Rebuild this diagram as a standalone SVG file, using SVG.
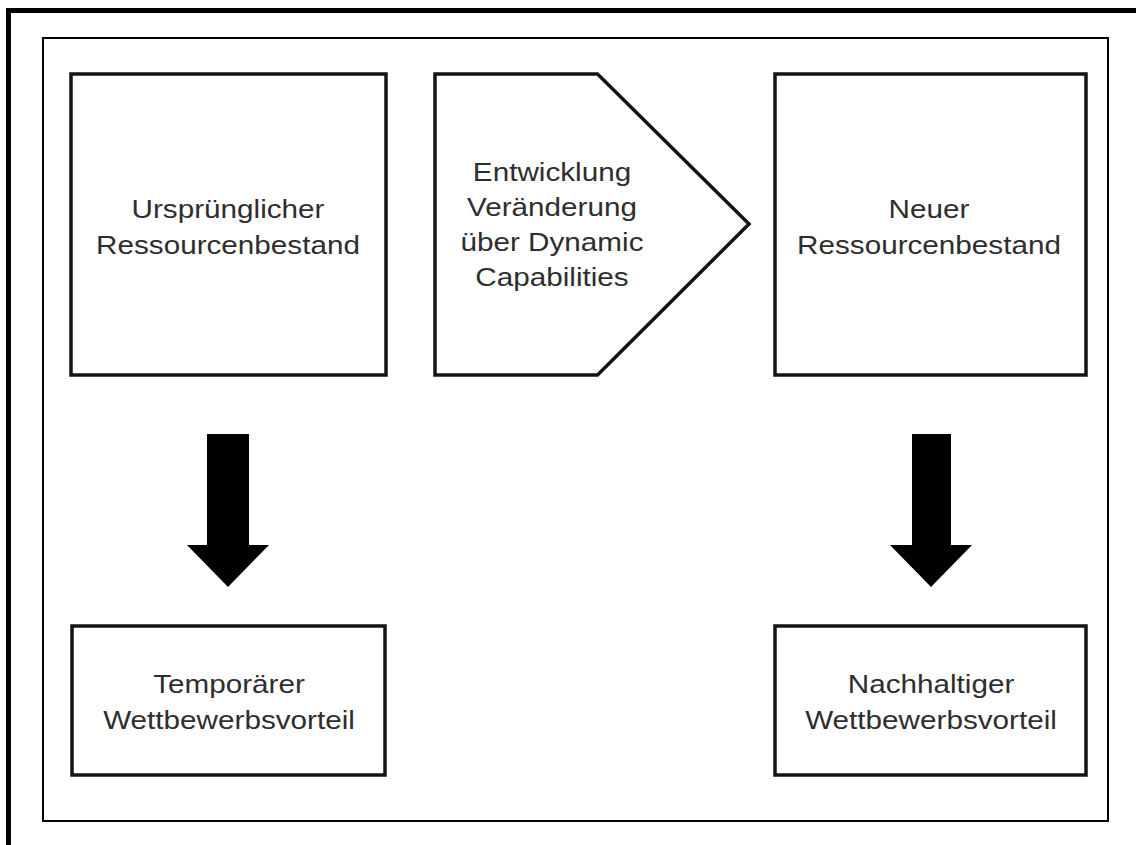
<svg xmlns="http://www.w3.org/2000/svg" width="1136" height="845" viewBox="0 0 1136 845">
  <style>
    .node { fill: #ffffff; stroke: #141414; stroke-width: 3.5; stroke-linejoin: miter; }
    .lbl { font-family: "Liberation Sans", Arial, sans-serif; font-size: 26.5px; fill: #2e2e2e; text-anchor: middle; }
    .arrow { fill: #000000; stroke: none; }
  </style>
  <rect x="0" y="0" width="1136" height="845" fill="#ffffff"/>
  <g id="frame">
    <rect x="8.5" y="10.5" width="1150" height="860" fill="none" stroke="#000000" stroke-width="5"/>
    <rect x="43" y="38" width="1065" height="783" fill="none" stroke="#000000" stroke-width="2"/>
  </g>

  <g id="node-urspruenglich">
    <rect class="node" x="71" y="74" width="315" height="301"/>
    <g transform="translate(228,0) scale(1.12,1)">
      <text class="lbl" x="0" y="218">Ursprünglicher</text>
      <text class="lbl" x="0" y="254">Ressourcenbestand</text>
    </g>
  </g>

  <g id="node-entwicklung">
    <polygon class="node" points="435,74 597.5,74 749,224 597.5,375 435,375"/>
    <g transform="translate(552,0) scale(1.12,1)">
      <text class="lbl" x="0" y="181">Entwicklung</text>
      <text class="lbl" x="0" y="216">Veränderung</text>
      <text class="lbl" x="0" y="251">über Dynamic</text>
      <text class="lbl" x="0" y="286">Capabilities</text>
    </g>
  </g>

  <g id="node-neuer">
    <rect class="node" x="775" y="74" width="311" height="301"/>
    <g transform="translate(929,0) scale(1.12,1)">
      <text class="lbl" x="0" y="218">Neuer</text>
      <text class="lbl" x="0" y="254">Ressourcenbestand</text>
    </g>
  </g>

  <g id="node-temporaer">
    <rect class="node" x="72" y="626" width="313" height="149"/>
    <g transform="translate(229,0) scale(1.12,1)">
      <text class="lbl" x="0" y="693">Temporärer</text>
      <text class="lbl" x="0" y="729">Wettbewerbsvorteil</text>
    </g>
  </g>

  <g id="node-nachhaltig">
    <rect class="node" x="775" y="626" width="311" height="149"/>
    <g transform="translate(931,0) scale(1.12,1)">
      <text class="lbl" x="0" y="693">Nachhaltiger</text>
      <text class="lbl" x="0" y="729">Wettbewerbsvorteil</text>
    </g>
  </g>

  <g id="connectors">
    <polygon class="arrow" points="207,434 249,434 249,545 269,545 228,587 187,545 207,545"/>
    <polygon class="arrow" points="912,434 951,434 951,545 972,545 931,587 890,545 912,545"/>
  </g>
</svg>
